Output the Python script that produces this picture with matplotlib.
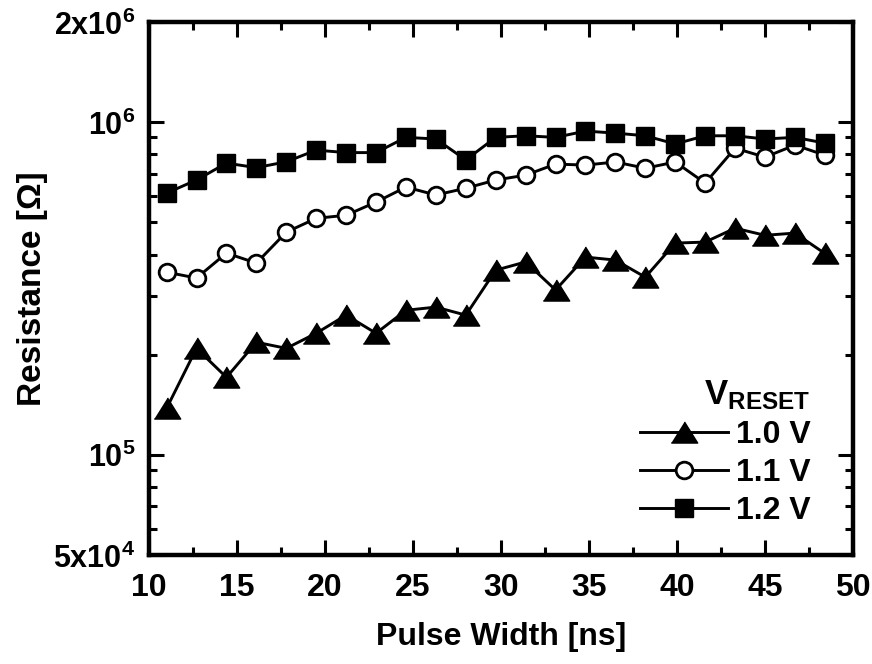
import matplotlib
matplotlib.use("Agg")
import matplotlib.pyplot as plt
from matplotlib import font_manager as fm
from matplotlib.ticker import FixedLocator, FixedFormatter, MultipleLocator, NullFormatter

names = sorted({f.name for f in fm.fontManager.ttflist})
NARROW = "Liberation Sans Narrow" if "Liberation Sans Narrow" in names else "Liberation Sans"
WIDE = "Liberation Sans"

# ---- data ----
pulse_width = [11.0, 12.7, 14.4, 16.1, 17.8, 19.5, 21.2, 22.9, 24.6, 26.3, 28.0, 29.7,
               31.4, 33.1, 34.8, 36.5, 38.2, 39.9, 41.6, 43.3, 45.0, 46.7, 48.4]
r_10V = [1.38e5, 2.09e5, 1.71e5, 2.18e5, 2.09e5, 2.32e5, 2.63e5, 2.32e5, 2.72e5, 2.78e5, 2.63e5, 3.59e5,
         3.80e5, 3.13e5, 3.93e5, 3.85e5, 3.42e5, 4.33e5, 4.36e5, 4.80e5, 4.57e5, 4.64e5, 4.03e5]
r_11V = [3.54e5, 3.40e5, 4.04e5, 3.77e5, 4.67e5, 5.14e5, 5.25e5, 5.75e5, 6.38e5, 6.04e5, 6.33e5, 6.70e5,
         6.93e5, 7.48e5, 7.43e5, 7.59e5, 7.27e5, 7.59e5, 6.56e5, 8.35e5, 7.85e5, 8.53e5, 7.96e5]
r_12V = [6.12e5, 6.70e5, 7.53e5, 7.30e5, 7.60e5, 8.24e5, 8.10e5, 8.10e5, 9.00e5, 8.90e5, 7.70e5, 9.00e5,
         9.10e5, 9.00e5, 9.40e5, 9.27e5, 9.10e5, 8.60e5, 9.10e5, 9.10e5, 8.90e5, 9.00e5, 8.65e5]
series_labels = ["1.0 V", "1.1 V", "1.2 V"]
legend_title = r"$\mathbf{V}_{\mathbf{RESET}}$"
x_label = "Pulse Width [ns]"
y_label = "Resistance [Ω]"
y_major = [5e4, 1e5, 1e6, 2e6]
y_major_labels = [r"$\mathbf{5x10^{4}}$", r"$\mathbf{10^{5}}$", r"$\mathbf{10^{6}}$", r"$\mathbf{2x10^{6}}$"]
y_minor = [6e4, 7e4, 8e4, 9e4, 2e5, 3e5, 4e5, 5e5, 6e5, 7e5, 8e5, 9e5]

plt.rcParams["mathtext.fontset"] = "custom"
plt.rcParams["mathtext.rm"] = NARROW + ":bold"
plt.rcParams["mathtext.bf"] = NARROW + ":bold"
plt.rcParams["mathtext.it"] = NARROW + ":bold"

fig = plt.figure(figsize=(8.72, 6.64), dpi=100)
ax = fig.add_axes([149/872, 1 - 555/664, (853-149)/872, (555-22)/664])

tri = [(-1, -0.8), (1, -0.8), (0, 0.8)]
lw = 2.1
ax.plot(pulse_width, r_10V, color="black", lw=lw, marker=tri, ms=19, mfc="black", mec="black",
        label=series_labels[0])
ax.plot(pulse_width, r_11V, color="black", lw=lw, marker="o", ms=12, mfc="white", mec="black", mew=2.0,
        label=series_labels[1])
ax.plot(pulse_width, r_12V, color="black", lw=lw, marker="s", ms=13, mfc="black", mec="black",
        label=series_labels[2])

ax.set_yscale("log")
ax.set_xlim(10, 50)
ax.set_ylim(5e4, 2e6)
ax.xaxis.set_major_locator(MultipleLocator(5))
ax.xaxis.set_minor_locator(MultipleLocator(2.5))
ax.yaxis.set_major_locator(FixedLocator(y_major))
ax.yaxis.set_major_formatter(FixedFormatter(y_major_labels))
ax.yaxis.set_minor_locator(FixedLocator(y_minor))
ax.yaxis.set_minor_formatter(NullFormatter())

for s in ax.spines.values():
    s.set_linewidth(3.2)
ax.tick_params(which="both", direction="in", top=True, right=True, width=2.2)
ax.tick_params(which="major", length=11)
ax.tick_params(which="minor", length=6)
ax.tick_params(axis="x", pad=13)
ax.tick_params(axis="y", pad=10)
for t in ax.get_xticklabels():
    t.set_fontfamily(NARROW); t.set_fontweight("bold"); t.set_fontsize(23)
for t in ax.get_yticklabels():
    t.set_fontsize(22)

ax.set_xlabel(x_label, fontfamily=WIDE, fontweight="bold", fontsize=23, labelpad=14)
ax.set_ylabel(y_label, fontfamily=WIDE, fontweight="bold", fontsize=24, labelpad=4)

leg = ax.legend(loc="lower right", bbox_to_anchor=(0.958, 0.03), frameon=False,
                title=legend_title, alignment="right",
                prop={"family": NARROW, "weight": "bold", "size": 23},
                title_fontproperties={"size": 25},
                handlelength=2.75, handletextpad=0.25, labelspacing=0.25, borderaxespad=0.0)

fig.savefig("out.png", dpi=100)
